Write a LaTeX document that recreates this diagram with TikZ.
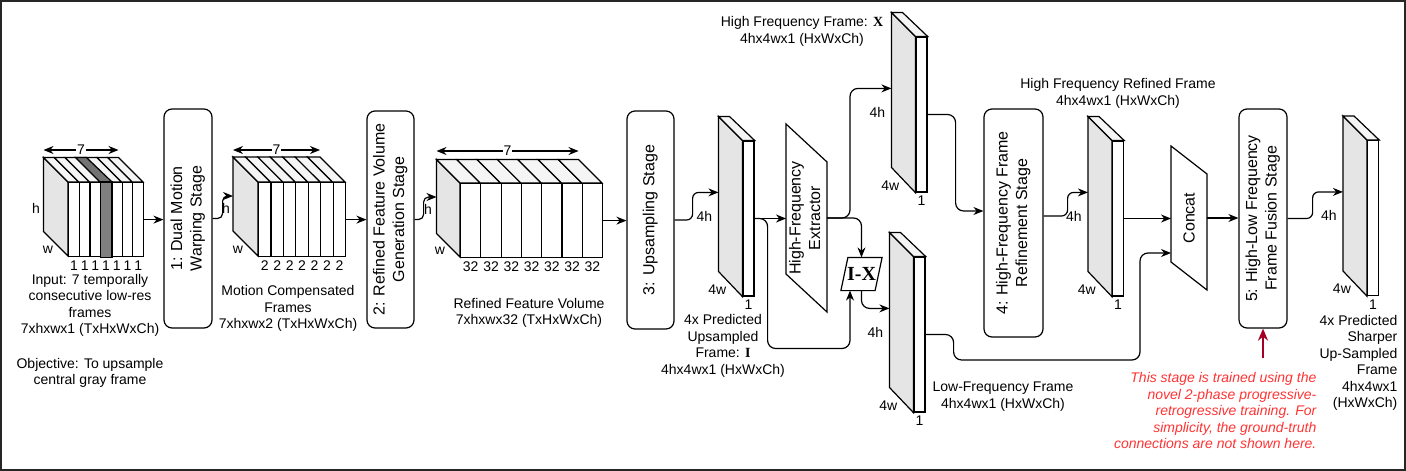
\documentclass[tikz,border=0pt]{standalone}
\usepackage{fontspec}
\setmainfont{Liberation Sans}
\newfontfamily\serifface{Liberation Serif}
\usepackage{graphicx}
\usetikzlibrary{positioning, calc, arrows.meta}
\definecolor{notered}{HTML}{FF3333}
\definecolor{pointred}{HTML}{A20025}
\tikzset{
every picture/.style={
line width=1.2pt
}}
\newcommand{\bodyfont}{\fontsize{14}{16.5}\selectfont}
\newcommand{\stagefont}{\fontsize{16}{19.5}\selectfont}
\newcommand{\bfserif}[1]{\textbf{\serifface #1}}
\newcommand{\sidetext}[1]{\rotatebox{90}{\begin{tabular}{@{}c@{}}#1\end{tabular}}}

% thin frame: front face plus the grey side and top faces
\newcommand{\slab}[2]{
  \node [slabfront] (#1) at (#2) {};
  \filldraw [sideface] (#1.north west) -- ++(-24,-24) -- ++(0,155) -- (#1.south west) -- cycle;
  \filldraw [topface] (#1.north west) -- ++(-24,-24) -- ++(11,0) -- (#1.north east) -- cycle;
  \node [dimlbl, below=2pt] (#1-c) at (#1.south) {1};
  \node [dimlbl] (#1-w) at ([shift={(-25,-7)}]#1.south west) {4w};
  \node [dimlbl] (#1-h) at ([shift={(-38,76)}]#1.north west) {4h};
  \coordinate (#1-in) at ([shift={(-24,52)}]#1.north west);
}

% stack of 7 frames: name, left x, top y, slice width, height, depth, channels
\newcommand{\framestack}[7]{
  \filldraw [sideface] (#2,#3) -- ++(-#6,-#6) -- ++(0,#5) -- ++(#6,#6) -- cycle;
  \foreach \i in {1,...,7} {
    \filldraw [topface] ({#2+(\i-1)*#4},#3) -- ++(-#6,-#6) -- ++(#4,0) -- ++(#6,#6) -- cycle;
    \node [slicebox, minimum width=#4, minimum height=#5, anchor=north west] (#1\i) at ({#2+(\i-1)*#4},#3) {};
    \node [dimlbl, below=2pt] (#1\i-n) at (#1\i.south) {#7};
  }
  \coordinate (#1-a) at ({#2-#6},{#3-32});
  \coordinate (#1-b) at ({#2-#6+7*#4},{#3-32});
  \draw [<->] (#1-a) -- node [dimlbl, fill=white] (#1-t) {7} (#1-b);
  \node [dimlbl] (#1-h) at ({#2-32},{#3+26}) {h};
  \node [dimlbl] (#1-w) at ({#2-20},{#3+68}) {w};
  \coordinate (#1-in) at ({#2-#6},{#3+14});
}

\begin{document}
\begin{tikzpicture}[x=1pt, y=-1pt, >={Stealth[length=10pt, width=8pt]},
  dimlbl/.style={font=\bodyfont, inner sep=1pt},
  txt/.style={font=\bodyfont, align=center, inner sep=0pt},
  stage/.style={draw, fill=white, rounded corners=8pt, font=\stagefont, inner sep=0pt},
  slabfront/.style={draw, fill=white, minimum width=11, minimum height=155, inner sep=0pt},
  slicebox/.style={draw, fill=white, inner sep=0pt},
  sideface/.style={draw, fill=black!10},
  topface/.style={draw, fill=black!4}]
  \useasboundingbox (0,0) rectangle (1406,471);
  \draw [line width=2pt, black!85] (1,1) rectangle (1405,470);

  % input frames, central one in grey
  \framestack{c1}{68}{182}{10.714}{74}{24.5}{1}
  \filldraw [fill=black!55] (c14.north west) -- ++(-24.5,-24.5) -- ++(10.714,0) -- (c14.north east) -- cycle;
  \filldraw [fill=black!50] (c14.north west) rectangle (c14.south east);
  \node [txt] (intxt) at (90,305.5) {Input: 7 temporally\\consecutive low-res\\frames\\7xhxwx1 (TxHxWxCh)};
  \node [txt] (goal) at (90,373) {Objective: To upsample\\central gray frame};

  \node [stage, minimum width=48, minimum height=219] (s1) at (188,218.5) {\sidetext{1: Dual Motion\\Warping Stage}};
  \draw [->] (c17.east) -- (c17.east -| s1.west);

  \framestack{c2}{258}{182}{12.43}{74}{25}{2}
  \node [txt] (mctxt) at (288,308.5) {Motion Compensated\\Frames\\7xhxwx2 (TxHxWxCh)};
  \draw [->, rounded corners=5pt] (s1.east) -- ++(10,0) |- (c2-in);

  \node [stage, minimum width=47, minimum height=217] (s2) at (390.5,219.5) {\sidetext{2: Refined Feature Volume\\Generation Stage}};
  \draw [->] (c27.east) -- (c27.east -| s2.west);

  \framestack{c3}{460}{183}{20.29}{74}{23.5}{32}
  \node [txt] (rfvtxt) at (529,313) {Refined Feature Volume\\7xhxwx32 (TxHxWxCh)};
  \draw [->, rounded corners=5pt] (s2.east) -- ++(9,0) |- (c3-in);

  \node [stage, minimum width=47, minimum height=218] (s3) at (650.5,220) {\sidetext{3: Upsampling Stage}};
  \draw [->] (c37.east) -- (c37.east -| s3.west);

  % upsampled frame I
  \slab{fI}{748.5,218.5}
  \draw [->, rounded corners=6pt] (s3.east) -- ++(18,0) |- (fI-in);
  \node [txt] (fItxt) at (723,346) {4x Predicted\\Upsampled\\Frame: \bfserif{I}\\4hx4wx1 (HxWxCh)};

  % extractor
  \node [inner sep=0pt, font=\stagefont] (hfe) at (806.5,218) {\sidetext{High-Frequency\\Extractor}};
  \draw (hfe.center) ++(-20.5,-94) -- ++(41,38) -- ++(0,150) -- ++(-41,-38) -- cycle;
  \coordinate (hfe-w) at ([xshift=-20.5pt]hfe.center);
  \coordinate (hfe-e) at ([xshift=20.5pt]hfe.center);
  \draw [->] (fI.east) -- (fI.east -| hfe-w);

  \node [inner sep=0pt, minimum width=40, minimum height=32, font=\fontsize{20}{24}\selectfont] (ix) at (861.5,274) {\bfserif{I-X}};
  \draw ([xshift=7pt]ix.north west) -- (ix.north east) -- ([xshift=-7pt]ix.south east) -- (ix.south west) -- cycle;

  \slab{fX}{921.5,114.5}
  \node [txt] (fXtxt) at (802,31.5) {High Frequency Frame: \bfserif{X}\\4hx4wx1 (HxWxCh)};
  \slab{fL}{919.5,334.5}
  \node [txt] (fLtxt) at (1003,396.5) {Low-Frequency Frame\\4hx4wx1 (HxWxCh)};

  \draw [->, rounded corners=8pt] (hfe-e) -- ++(23,0) |- (fX-in);
  \draw [->, rounded corners=8pt] (hfe-e) -| (ix.north);
  \draw [->, rounded corners=8pt] (fI.east) -- ++(13,0) -- ++(0,130) -| ([xshift=-11.5pt]ix.south);
  \draw [->, rounded corners=8pt] (ix.south) |- (fL-in);

  % refinement and fusion
  \node [stage, minimum width=59, minimum height=228] (s4) at (1013.5,223) {\sidetext{4: High-Frequency Frame\\Refinement Stage}};
  \draw [->, rounded corners=8pt] (fX.east) -- ++(28,0) |- ([shift={(0,-12)}]s4.west);

  \slab{fR}{1118,218.5}
  \node [txt] (fRtxt) at (1118,93.5) {High Frequency Refined Frame\\4hx4wx1 (HxWxCh)};
  \draw [->, rounded corners=6pt] ([shift={(0,-7)}]s4.east) -- ++(24,0) |- (fR-in);

  \node [inner sep=0pt, font=\stagefont] (cc) at (1189,218) {\rotatebox{90}{Concat}};
  \draw (cc.center) ++(-18,-72) -- ++(36,28) -- ++(0,116) -- ++(-36,-28) -- cycle;
  \coordinate (cc-w) at ([xshift=-18pt]cc.center);
  \coordinate (cc-e) at ([xshift=18pt]cc.center);
  \draw [->] (fR.east) -- (fR.east -| cc-w);
  \draw [->, rounded corners=8pt] (fL.east) -- ++(28,0) -- ++(0,25.5) -| ([shift={(-31,35)}]cc-w) -- ([shift={(0,35)}]cc-w);

  \node [stage, minimum width=48, minimum height=219] (s5) at (1263,218.5) {\sidetext{5: High-Low Frequency\\Frame Fusion Stage}};
  \draw [->] (cc-e) -- (cc-e -| s5.west);

  \slab{fF}{1373,218}
  \draw [->, rounded corners=6pt] (s5.east) -- ++(25,0) |- (fF-in);
  \node [txt, align=right, anchor=east] (fFtxt) at (1398,363) {4x Predicted\\Sharper\\Up-Sampled\\Frame\\4hx4wx1\\(HxWxCh)};

  % training note
  \coordinate (noteptr) at ([shift={(0,29)}]s5.south);
  \draw [-{Stealth[length=12pt, width=10pt]}, pointred, line width=2.5pt] (noteptr) -- (s5.south);
  \node [txt, align=right, anchor=east, text=notered, font=\bodyfont\itshape] (note) at (1317,410.5)
    {This stage is trained using the\\novel 2-phase progressive-\\retrogressive training. For\\simplicity, the ground-truth\\connections are not shown here.};
\end{tikzpicture}
\end{document}
